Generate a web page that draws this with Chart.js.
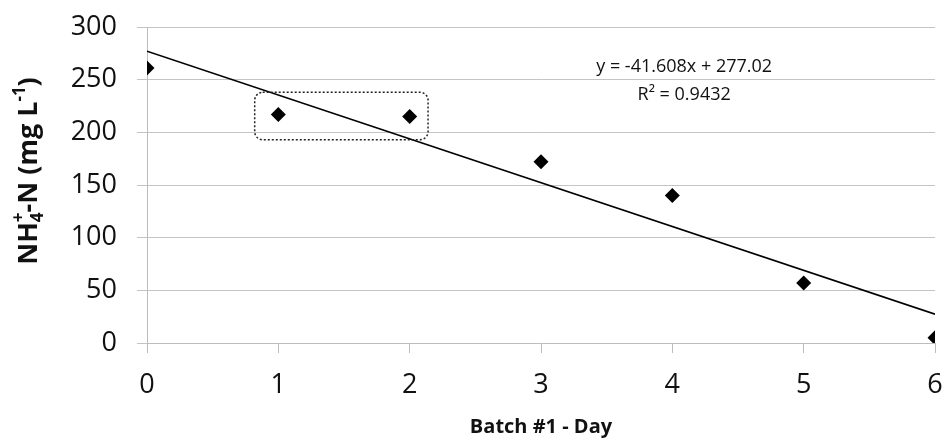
<!DOCTYPE html>
<html>
<head>
<meta charset="utf-8">
<script src="https://cdn.jsdelivr.net/npm/chart.js@4"></script>
<style>
  html, body { margin: 0; padding: 0; background: #fff; }
  #wrap { width: 945px; height: 447px; }
</style>
</head>
<body>
<div id="wrap"><canvas id="nhChart" width="945" height="447"></canvas></div>
<script>
// data
const days = [0, 1, 2, 3, 4, 5, 6];
const nh4 = [261, 217, 215, 172, 140, 57, 5];
const trendX = [0, 6];
const trendY = [277.02, 27.37];
const eqLines = ['y = -41.608x + 277.02', 'R² = 0.9432'];

const font = "'Open Sans', 'Noto Sans', sans-serif";

// dotted box around day 1-2 + regression label
const extras = {
  id: 'extras',
  afterDatasetsDraw(chart) {
    const { ctx, scales: { x, y } } = chart;
    ctx.save();
    // box
    const x0 = x.getPixelForValue(0.82), x1 = x.getPixelForValue(2.14);
    const y0 = y.getPixelForValue(238), y1 = y.getPixelForValue(193);
    ctx.setLineDash([2, 2]);
    ctx.lineWidth = 1.5;
    ctx.strokeStyle = '#222';
    ctx.beginPath();
    ctx.roundRect(x0, y0, x1 - x0, y1 - y0, 8);
    ctx.stroke();
    ctx.setLineDash([]);
    // equation
    ctx.fillStyle = '#111';
    ctx.font = '18px ' + font;
    ctx.textAlign = 'center';
    ctx.textBaseline = 'middle';
    const cx = x.getPixelForValue(4.09);
    ctx.fillText(eqLines[0], cx, y.getPixelForValue(262));
    ctx.fillText(eqLines[1], cx, y.getPixelForValue(236));
    ctx.restore();
  },
  // y title with real sub/superscripts
  afterDraw(chart) {
    const { ctx } = chart;
    const big = 'bold 27px ' + font, small = 'bold 17px ' + font;
    const parts = [
      { t: 'NH', f: big, dy: 0 },
      { t: '4', f: small, dy: 6, stack: '+' },
      { t: '-N (mg L', f: big, dy: 0 },
      { t: '-1', f: small, dy: -12 },
      { t: ')', f: big, dy: 0 }
    ];
    ctx.save();
    let total = 0;
    parts.forEach(p => {
      ctx.font = p.f;
      p.w = ctx.measureText(p.t).width;
      if (p.stack) p.w = Math.max(p.w, ctx.measureText(p.stack).width);
      total += p.w;
    });
    ctx.translate(37, 171);
    ctx.rotate(-Math.PI / 2);
    ctx.fillStyle = '#111';
    ctx.textBaseline = 'alphabetic';
    ctx.textAlign = 'left';
    let pos = -total / 2;
    parts.forEach(p => {
      ctx.font = p.f;
      ctx.fillText(p.t, pos, p.dy);
      if (p.stack) ctx.fillText(p.stack, pos, -13);
      pos += p.w;
    });
    ctx.restore();
  }
};

const config = {
  type: 'scatter',
  data: {
    datasets: [{
      label: 'NH4-N',
      data: days.map((d, i) => ({ x: d, y: nh4[i] })),
      pointStyle: 'rectRot',
      pointRadius: 7.5,
      pointHoverRadius: 7.5,
      backgroundColor: '#000',
      borderColor: '#000',
      borderWidth: 0,
      order: 1
    }, {
      type: 'line',
      label: 'trend',
      data: trendX.map((d, i) => ({ x: d, y: trendY[i] })),
      borderColor: '#000',
      borderWidth: 1.6,
      pointRadius: 0,
      fill: false,
      order: 2
    }]
  },
  options: {
    responsive: false,
    animation: false,
    layout: { padding: { top: 27, right: 10, left: 0, bottom: 0 } },
    plugins: {
      legend: { display: false },
      tooltip: { enabled: false }
    },
    scales: {
      x: {
        type: 'linear',
        min: 0,
        max: 6,
        ticks: { stepSize: 1, color: '#111', font: { family: font, size: 27 }, padding: 16 },
        grid: { drawOnChartArea: false, color: '#bdbdbd', tickLength: 10 },
        border: { color: '#bdbdbd' },
        title: { display: true, text: 'Batch #1 - Day', color: '#111',
                 font: { family: font, size: 20, weight: 'bold' }, padding: { top: 0, bottom: 8 } },
        afterFit(s) { s.height = 104; s.paddingLeft = 0; s.paddingRight = 0; }
      },
      y: {
        min: 0,
        max: 300,
        ticks: { stepSize: 50, color: '#111', font: { family: font, size: 27 }, padding: 20 },
        grid: { color: '#c4c4c4', tickLength: 10 },
        border: { color: '#bdbdbd' },
        title: { display: false },
        afterFit(s) { s.width = 147; s.paddingTop = 0; s.paddingBottom = 0; }
      }
    }
  },
  plugins: [extras]
};

const nhChart = new Chart(document.getElementById('nhChart').getContext('2d'), config);
</script>
</body>
</html>
